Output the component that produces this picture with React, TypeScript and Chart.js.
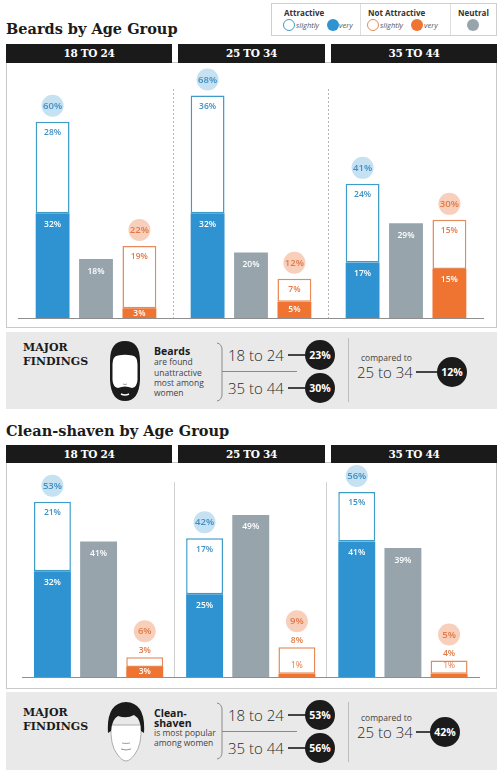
import React, { useEffect, useRef } from "react";
import { Chart, registerables } from "chart.js";

Chart.register(...registerables);

// ---------- data ----------
const ageGroups = ["18 TO 24", "25 TO 34", "35 TO 44"];

const beardAttractiveVery = [32, 32, 17];
const beardAttractiveSlightly = [28, 36, 24];
const beardNeutral = [18, 20, 29];
const beardNotVery = [3, 5, 15];
const beardNotSlightly = [19, 7, 15];

const shavenAttractiveVery = [32, 25, 41];
const shavenAttractiveSlightly = [21, 17, 15];
const shavenNeutral = [41, 49, 39];
const shavenNotVery = [3, 1, 1];
const shavenNotSlightly = [3, 8, 4];

const findingAges = ["18 to 24", "35 to 44"];
const compareAge = "25 to 34";
const beardFindingValues = ["23%", "30%"];
const beardCompareValue = "12%";
const shavenFindingValues = ["53%", "56%"];
const shavenCompareValue = "42%";

// ---------- styles ----------
const BLUE = "#2f93d1";
const BLUE_OUTLINE = "#3f9cc9";
const BLUE_TEXT = "#3f8fc2";
const BLUE_CIRCLE = "#c5e1f2";
const GRAY = "#97a4ac";
const ORANGE = "#ef7331";
const ORANGE_OUTLINE = "#e58a58";
const ORANGE_TEXT = "#e07a48";
const ORANGE_CIRCLE = "#f8cfbb";
const SERIF = "'DejaVu Serif', serif";
const SANS = "'Open Sans', 'DejaVu Sans', sans-serif";

type Palette = { text: string; circle: string; circleText: string };

function drawStackLabels(ctx: CanvasRenderingContext2D, veryEl: any, slEl: any, veryVal: number, slVal: number, c: Palette) {
  const x = veryEl.x;
  const base = veryEl.base;
  const vTop = veryEl.y;
  const top = slEl.y;
  const slH = vTop - top;
  const vH = base - vTop;
  const veryInside = vH >= 9;
  const small = slH < 16 || !veryInside;
  ctx.textAlign = "center";
  ctx.textBaseline = "middle";
  const cy = small ? top - 26 : top - 16;
  ctx.beginPath();
  ctx.arc(x, cy, 11, 0, Math.PI * 2);
  ctx.fillStyle = c.circle;
  ctx.fill();
  ctx.font = `600 9.5px ${SANS}`;
  ctx.fillStyle = c.circleText;
  ctx.fillText(`${veryVal + slVal}%`, x, cy + 0.5);
  ctx.font = `600 8.5px ${SANS}`;
  ctx.fillStyle = c.text;
  ctx.fillText(`${slVal}%`, x, small ? top - 7 : top + 11);
  if (veryInside) {
    ctx.fillStyle = "#ffffff";
    ctx.fillText(`${veryVal}%`, x, vTop + Math.min(11, vH / 2));
  } else {
    ctx.font = `400 8.5px ${SANS}`;
    ctx.fillStyle = c.text;
    ctx.fillText(`${veryVal}%`, x, vTop - 8);
  }
}

const labelPlugin = {
  id: "stackLabels",
  afterDatasetsDraw(chart: any) {
    const ctx = chart.ctx as CanvasRenderingContext2D;
    const ds = chart.data.datasets;
    const m = [0, 1, 2, 3, 4].map((i) => chart.getDatasetMeta(i));
    ctx.save();
    for (let j = 0; j < chart.data.labels.length; j++) {
      drawStackLabels(ctx, m[0].data[j], m[1].data[j], ds[0].data[j], ds[1].data[j], {
        text: BLUE_TEXT,
        circle: BLUE_CIRCLE,
        circleText: BLUE_TEXT,
      });
      drawStackLabels(ctx, m[3].data[j], m[4].data[j], ds[3].data[j], ds[4].data[j], {
        text: ORANGE_TEXT,
        circle: ORANGE_CIRCLE,
        circleText: ORANGE_TEXT,
      });
      const n = m[2].data[j];
      ctx.font = `600 8.5px ${SANS}`;
      ctx.fillStyle = "#ffffff";
      ctx.textAlign = "center";
      ctx.textBaseline = "middle";
      ctx.fillText(`${ds[2].data[j]}%`, n.x, n.y + 12);
    }
    ctx.restore();
  },
};

type ChartProps = {
  attVery: number[];
  attSlightly: number[];
  neutral: number[];
  notVery: number[];
  notSlightly: number[];
  yMax: number;
  top: number;
  height: number;
  pad: { left: number; right: number; top: number; bottom: number };
  catPct: number;
  barPct: number;
  dividerDash: number[];
  dividerColor: string;
};

function StackChart(p: ChartProps) {
  const ref = useRef<HTMLCanvasElement>(null);
  useEffect(() => {
    const common = { stacked: true };
    const chart = new Chart(ref.current!, {
      type: "bar",
      data: {
        labels: ageGroups,
        datasets: [
          { label: "Attractive very", data: p.attVery, stack: "att", backgroundColor: BLUE, borderWidth: 0 },
          {
            label: "Attractive slightly",
            data: p.attSlightly,
            stack: "att",
            backgroundColor: "#ffffff",
            borderColor: BLUE_OUTLINE,
            borderWidth: 1.5,
            borderSkipped: false,
          },
          { label: "Neutral", data: p.neutral, stack: "neu", backgroundColor: GRAY, borderWidth: 0 },
          { label: "Not attractive very", data: p.notVery, stack: "not", backgroundColor: ORANGE, borderWidth: 0 },
          {
            label: "Not attractive slightly",
            data: p.notSlightly,
            stack: "not",
            backgroundColor: "#ffffff",
            borderColor: ORANGE_OUTLINE,
            borderWidth: 1.5,
            borderSkipped: false,
          },
        ],
      },
      options: {
        animation: false,
        responsive: false,
        categoryPercentage: p.catPct,
        barPercentage: p.barPct,
        layout: { padding: p.pad },
        plugins: { legend: { display: false }, tooltip: { enabled: false } },
        scales: {
          x: {
            ...common,
            ticks: { display: false },
            grid: {
              offset: true,
              drawTicks: false,
              lineWidth: 1,
              color: (c: any) => (c.type === "tick" && c.index > 0 ? p.dividerColor : "transparent"),
            },
            border: { display: true, color: "#8f8f8f", width: 1, dash: p.dividerDash },
          },
          y: { ...common, display: false, min: 0, max: p.yMax },
        },
      } as any,
      plugins: [labelPlugin],
    });
    return () => chart.destroy();
  }, []);
  return (
    <canvas
      ref={ref}
      width={500}
      height={p.height}
      style={{ position: "absolute", left: 0, top: p.top, width: 500, height: p.height }}
    />
  );
}

// ---------- small helpers ----------
function T(props: {
  x: number;
  cy: number;
  size: number;
  weight?: number;
  color?: string;
  family?: string;
  italic?: boolean;
  children: React.ReactNode;
}) {
  const lh = Math.round(props.size * 1.4);
  return (
    <div
      style={{
        position: "absolute",
        left: props.x,
        top: props.cy - lh / 2,
        height: lh,
        lineHeight: `${lh}px`,
        fontSize: props.size,
        fontWeight: props.weight ?? 400,
        color: props.color ?? "#222",
        fontFamily: props.family ?? SANS,
        fontStyle: props.italic ? "italic" : "normal",
        whiteSpace: "nowrap",
      }}
    >
      {props.children}
    </div>
  );
}

function Dot(props: { cx: number; cy: number; r: number; fill: string; stroke?: string }) {
  return (
    <div
      style={{
        position: "absolute",
        left: props.cx - props.r,
        top: props.cy - props.r,
        width: props.r * 2,
        height: props.r * 2,
        boxSizing: "border-box",
        borderRadius: "50%",
        background: props.fill,
        border: props.stroke ? `1px solid ${props.stroke}` : "none",
      }}
    />
  );
}

function Badge(props: { cx: number; cy: number; text: string }) {
  return (
    <div
      style={{
        position: "absolute",
        left: props.cx - 15,
        top: props.cy - 15,
        width: 30,
        height: 30,
        borderRadius: "50%",
        background: "#1b1b1b",
        color: "#fff",
        fontFamily: SANS,
        fontWeight: 700,
        fontSize: 10.5,
        lineHeight: "30px",
        textAlign: "center",
      }}
    >
      {props.text}
    </div>
  );
}

function HLine(props: { x1: number; x2: number; y: number; color?: string; w?: number }) {
  const w = props.w ?? 1.5;
  return (
    <div
      style={{
        position: "absolute",
        left: props.x1,
        top: props.y - w / 2,
        width: props.x2 - props.x1,
        height: w,
        background: props.color ?? "#444",
      }}
    />
  );
}

function VLine(props: { x: number; y1: number; y2: number; color?: string }) {
  return (
    <div
      style={{ position: "absolute", left: props.x, top: props.y1, width: 1, height: props.y2 - props.y1, background: props.color ?? "#bbb" }}
    />
  );
}

function Headers(props: { top: number; height: number }) {
  const spans = [
    [6, 172],
    [178, 325],
    [331, 497],
  ];
  return (
    <>
      {spans.map(([a, b], i) => (
        <div
          key={i}
          style={{
            position: "absolute",
            left: a,
            top: props.top,
            width: b - a,
            height: props.height,
            background: "#1a1a1a",
            color: "#fff",
            fontFamily: SERIF,
            fontWeight: 700,
            fontSize: 10.5,
            letterSpacing: -0.3,
            lineHeight: `${props.height}px`,
            textAlign: "center",
          }}
        >
          {ageGroups[i]}
        </div>
      ))}
    </>
  );
}

function Frame(props: { top: number; bottom: number }) {
  return (
    <div
      style={{
        position: "absolute",
        left: 6,
        top: props.top,
        width: 491,
        height: props.bottom - props.top,
        boxSizing: "border-box",
        border: "1.5px solid #c9c9c9",
        background: "#fff",
      }}
    />
  );
}

function Bracket(props: { y1: number; y2: number }) {
  return (
    <svg style={{ position: "absolute", left: 214, top: props.y1, overflow: "visible" }} width={10} height={props.y2 - props.y1}>
      <path
        d={`M3 0 Q8 1 8 7 L8 ${props.y2 - props.y1 - 7} Q8 ${props.y2 - props.y1 - 1} 3 ${props.y2 - props.y1}`}
        stroke="#8a8a8a"
        strokeWidth={1}
        fill="none"
      />
    </svg>
  );
}

function BeardFace(props: { x: number; y: number }) {
  return (
    <svg style={{ position: "absolute", left: props.x, top: props.y }} width={34} height={62} viewBox="0 0 34 62">
      <path d="M2 21 Q2 1 17 1 Q32 1 32 21 L32 40 Q31 61 17 61 Q3 61 2 40 Z" fill="#1b1b1b" />
      <path
        d="M4.5 24 Q4.5 16 10 15.5 Q17 14 24 15.5 Q29.5 16 29.5 24 L29.5 40 Q29 47 24 48 Q17 45 10 48 Q5 47 4.5 40 Z"
        fill="#ffffff"
      />
      <path d="M13 54 Q17 56 21 54" stroke="#ffffff" strokeWidth={1.4} fill="none" />
      <path d="M15 44 Q17 45 19 44" stroke="#888" strokeWidth={0.8} fill="none" />
    </svg>
  );
}

function ShavenFace(props: { x: number; y: number }) {
  return (
    <svg style={{ position: "absolute", left: props.x, top: props.y }} width={38} height={62} viewBox="0 0 38 62">
      <path d="M4 24 Q3 44 10 53 Q15 60 19 60 Q23 60 28 53 Q35 44 34 24 Z" fill="#ffffff" stroke="#9a9a9a" strokeWidth={0.8} />
      <path d="M1 32 Q-1 2 19 1 Q39 2 37 32 L34 30 Q34 18 27 14 Q20 18 11 15 Q5 18 4 30 Z" fill="#1b1b1b" />
      <path d="M15 42 Q19 43 23 42" stroke="#888" strokeWidth={0.8} fill="none" />
      <path d="M14 48 Q19 50 24 48" stroke="#888" strokeWidth={0.9} fill="none" />
    </svg>
  );
}

function Findings(props: {
  top: number;
  height: number;
  majorY: number;
  face: React.ReactNode;
  subject: { text: string; bold: boolean }[];
  subjectY: number[];
  values: string[];
  compareValue: string;
  compareCx: number;
  compareLineEnd: number;
  bracket: [number, number];
  sep: [number, number];
}) {
  const t = props.top;
  return (
    <>
      <div
        style={{ position: "absolute", left: 6, top: t, width: 491, height: props.height, background: "#e9e9e9" }}
      />
      <T x={23} cy={t + props.majorY} size={11} weight={700} family={SERIF} color="#1b1b1b">
        MAJOR
      </T>
      <T x={23} cy={t + props.majorY + 14.5} size={11} weight={700} family={SERIF} color="#1b1b1b">
        FINDINGS
      </T>
      {props.face}
      {props.subject.map((s, i) => (
        <T
          key={i}
          x={154}
          cy={t + props.subjectY[i]}
          size={s.bold ? 10.5 : 8.5}
          weight={s.bold ? 700 : 400}
          color={s.bold ? "#1b1b1b" : "#444"}
        >
          {s.text}
        </T>
      ))}
      <Bracket y1={t + props.bracket[0]} y2={t + props.bracket[1]} />
      <HLine x1={222} x2={297} y={t + 39} color="#8a8a8a" w={1} />
      {findingAges.map((a, i) => (
        <React.Fragment key={a}>
          <T x={228} cy={t + (i === 0 ? 23 : 56)} size={15} weight={300} color="#2a2a2a">
            {a}
          </T>
          <HLine x1={288} x2={306} y={t + (i === 0 ? 23 : 56)} />
          <Badge cx={320} cy={t + (i === 0 ? 23 : 56)} text={props.values[i]} />
        </React.Fragment>
      ))}
      <VLine x={348} y1={t + props.sep[0]} y2={t + props.sep[1]} color="#bdbdbd" />
      <T x={361} cy={t + 26} size={8.5} color="#444">
        compared to
      </T>
      <T x={357} cy={t + 40} size={15} weight={300} color="#2a2a2a">
        {compareAge}
      </T>
      <HLine x1={416} x2={props.compareLineEnd} y={t + 40} />
      <Badge cx={props.compareCx} cy={t + 40} text={props.compareValue} />
    </>
  );
}

function Legend() {
  return (
    <>
      <div
        style={{
          position: "absolute",
          left: 271,
          top: 3,
          width: 226,
          height: 33,
          boxSizing: "border-box",
          border: "1px solid #cfcfcf",
          background: "#fff",
        }}
      />
      <VLine x={360} y1={4} y2={35} color="#dedede" />
      <VLine x={450} y1={4} y2={35} color="#dedede" />
      <T x={284} cy={12} size={8} weight={700} color="#333">
        Attractive
      </T>
      <Dot cx={288.5} cy={25} r={6} fill="#fff" stroke={BLUE_OUTLINE} />
      <T x={296} cy={25} size={7.5} italic color="#555">
        slightly
      </T>
      <Dot cx={332.5} cy={25} r={6} fill={BLUE} />
      <T x={339} cy={25} size={7.5} italic color="#555">
        very
      </T>
      <T x={368} cy={12} size={8} weight={700} color="#333">
        Not Attractive
      </T>
      <Dot cx={372.5} cy={25} r={6} fill="#fff" stroke={ORANGE_OUTLINE} />
      <T x={380} cy={25} size={7.5} italic color="#555">
        slightly
      </T>
      <Dot cx={417} cy={25} r={6} fill={ORANGE} />
      <T x={424} cy={25} size={7.5} italic color="#555">
        very
      </T>
      <T x={458} cy={12} size={8} weight={700} color="#333">
        Neutral
      </T>
      <Dot cx={473} cy={25} r={6} fill={GRAY} />
    </>
  );
}

export default function App() {
  return (
    <div
      style={{
        position: "absolute",
        left: 0,
        top: 0,
        width: 500,
        height: 770,
        overflow: "hidden",
        background: "#fff",
        fontFamily: SANS,
      }}
    >
      {/* ---- Beards ---- */}
      <div
        style={{
          position: "absolute",
          left: 6,
          top: 20,
          fontFamily: SERIF,
          fontWeight: 700,
          fontSize: 14.5,
          lineHeight: "17px",
          color: "#1b1b1b",
          whiteSpace: "nowrap",
        }}
      >
        Beards by Age Group
      </div>
      <Legend />
      <Frame top={62} bottom={328} />
      <Headers top={44} height={19} />
      <StackChart
        attVery={beardAttractiveVery}
        attSlightly={beardAttractiveSlightly}
        neutral={beardNeutral}
        notVery={beardNotVery}
        notSlightly={beardNotSlightly}
        yMax={70}
        top={62}
        height={265}
        pad={{ left: 18.5, right: 16.5, top: 27, bottom: 9 }}
        catPct={0.84}
        barPct={0.78}
        dividerDash={[2, 2]}
        dividerColor="#b5b5b5"
      />
      <Findings
        top={332}
        height={77}
        majorY={15}
        face={<BeardFace x={108} y={340} />}
        subject={[
          { text: "Beards", bold: true },
          { text: "are found", bold: false },
          { text: "unattractive", bold: false },
          { text: "most among", bold: false },
          { text: "women", bold: false },
        ]}
        subjectY={[19, 30, 41, 51, 61]}
        values={beardFindingValues}
        compareValue={beardCompareValue}
        compareCx={452}
        compareLineEnd={438}
        bracket={[11, 69]}
        sep={[6, 70]}
      />

      {/* ---- Clean-shaven ---- */}
      <div
        style={{
          position: "absolute",
          left: 6,
          top: 422,
          fontFamily: SERIF,
          fontWeight: 700,
          fontSize: 14.5,
          lineHeight: "17px",
          color: "#1b1b1b",
          whiteSpace: "nowrap",
        }}
      >
        Clean-shaven by Age Group
      </div>
      <Frame top={462} bottom={689} />
      <Headers top={445} height={18} />
      <StackChart
        attVery={shavenAttractiveVery}
        attSlightly={shavenAttractiveSlightly}
        neutral={shavenNeutral}
        notVery={shavenNotVery}
        notSlightly={shavenNotSlightly}
        yMax={59}
        top={462}
        height={226}
        pad={{ left: 22.5, right: 21, top: 20, bottom: 11 }}
        catPct={0.91}
        barPct={0.8}
        dividerDash={[]}
        dividerColor="#d0d0d0"
      />
      <Findings
        top={692}
        height={78}
        majorY={20}
        face={<ShavenFace x={107} y={701} />}
        subject={[
          { text: "Clean-", bold: true },
          { text: "shaven", bold: true },
          { text: "is most popular", bold: false },
          { text: "among women", bold: false },
        ]}
        subjectY={[21, 31, 41, 51]}
        values={shavenFindingValues}
        compareValue={shavenCompareValue}
        compareCx={445}
        compareLineEnd={431}
        bracket={[11, 67]}
        sep={[10, 70]}
      />
    </div>
  );
}
